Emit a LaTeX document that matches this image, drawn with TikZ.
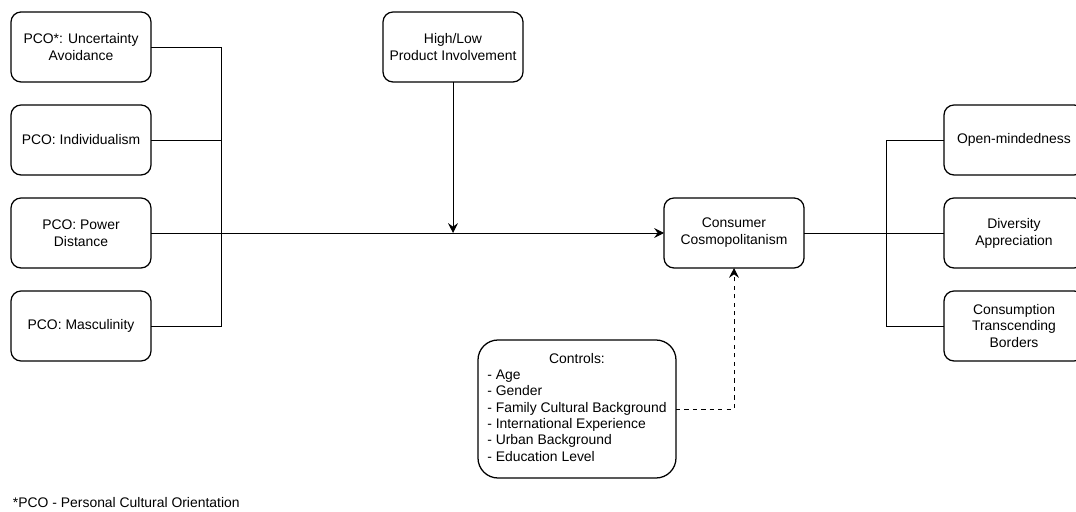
\documentclass[tikz,border=0pt]{standalone}
\usepackage{fontspec}
\setmainfont{Liberation Sans}
\usetikzlibrary{positioning,arrows.meta,calc}
\tikzset{
  blk/.style={draw, line width=0.9pt, rounded corners=0.25cm, align=center,
              font=\fontsize{9.9}{12}\selectfont, minimum width=3.5cm,
              minimum height=1.75cm, inner sep=2pt, outer sep=0pt},
  ctl/.style={blk, rounded corners=0.5cm, minimum width=4.95cm, minimum height=3.45cm,
              font=\fontsize{9.9}{11.6}\selectfont},
  link/.style={line width=0.7pt},
  flow/.style={link, -{Stealth[length=7pt, width=7pt, inset=2.5pt]}},
}
\begin{document}
\begin{tikzpicture}[node distance=0.575cm]
  \useasboundingbox (0,0) rectangle (26.9,-12.8);
  % left column
  \node[blk] (UA) at (2.025,-1.175) {PCO*: Uncertainty\\Avoidance};
  \node[blk, below=of UA] (IND) {PCO: Individualism};
  \node[blk, below=of IND] (PD) {PCO: Power\\Distance};
  \node[blk, below=of PD] (MAS) {PCO: Masculinity};
  % moderator, outcome and controls
  \node[blk, right=5.8cm of UA] (HL) {High/Low\\Product Involvement};
  \node[blk, right=12.825cm of PD] (CC) {Consumer\\Cosmopolitanism};
  \node[ctl] (CT) at (14.425,-10.225) {\begin{tabular}{@{}l@{}}
    \multicolumn{1}{@{}c@{}}{Controls:}\\
    - Age\\ - Gender\\ - Family Cultural Background\\
    - International Experience\\ - Urban Background\\ - Education Level
  \end{tabular}};
  % right column
  \node[blk, right=3.5cm of CC] (DA) {Diversity\\Appreciation};
  \node[blk, above=of DA] (OM) {Open-mindedness};
  \node[blk, below=of DA] (CTB) {Consumption\\Transcending\\Borders};
  \node[anchor=west, font=\fontsize{9.9}{12}\selectfont] (note) at (0.2,-12.575)
    {*PCO - Personal Cultural Orientation};
  % connectors
  \coordinate (lbus) at ($(PD.east)+(1.75cm,0)$);
  \coordinate (rbus) at ($(CC.east)+(2.05cm,0)$);
  \draw[link] (UA.east) -| (lbus);
  \draw[link] (IND.east) -| (lbus);
  \draw[link] (MAS.east) -| (lbus);
  \draw[flow] (PD.east) -- (CC.west);
  \draw[flow] (HL.south) -- (HL.south |- CC.west);
  \draw[link] (CC.east) -- (DA.west);
  \draw[link] (OM.west) -| (rbus) |- (CTB.west);
  \draw[flow, dashed] (CT.east) -| (CC.south);
\end{tikzpicture}
\end{document}
